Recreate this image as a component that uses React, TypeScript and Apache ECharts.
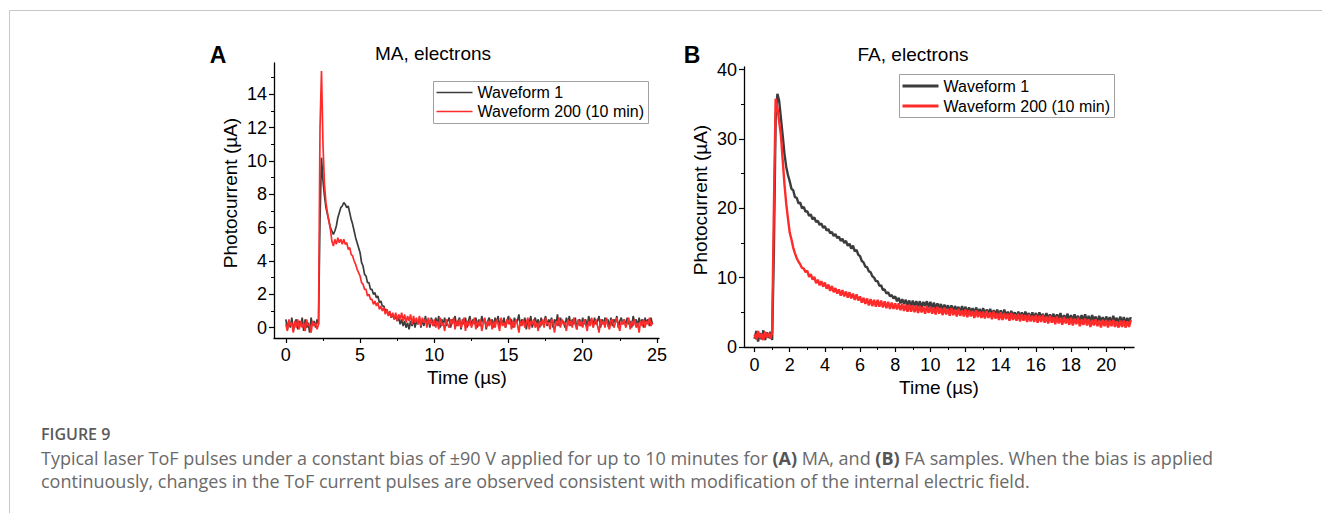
import React, { useEffect, useRef } from "react";
import * as echarts from "echarts";

// ---------- data ----------
const SERIES_NAMES = ["Waveform 1", "Waveform 200 (10 min)"];
const SAMPLE_STEP_US = 0.1; // oscilloscope sampling grid (µs) of the traces below

// Panel A (MA, electrons): photocurrent (µA) sampled every 0.1 µs from 0 to 24.7 µs
const maWaveform1 = [
  0.5, -0.1, 0.4, 0.0, 0.6, -0.2, 0.3, 0.5, -0.1, 0.4,
  0.1, 0.6, -0.2, 0.5, 0.0, 0.3, -0.3, 0.6, 0.1, 0.4,
  0.0, 0.5, 0.2, 6.5, 10.2, 8.8, 7.9, 7.2, 6.8, 6.4,
  6.0, 5.8, 5.6, 5.8, 6.1, 6.6, 6.9, 7.2, 7.3, 7.5,
  7.4, 7.2, 7.3, 6.9, 6.5, 6.2, 5.8, 5.4, 5.1, 4.8,
  4.5, 3.9, 3.7, 3.2, 3.1, 2.7, 2.7, 2.3, 2.3, 2.0,
  2.1, 1.8, 1.9, 1.5, 1.6, 1.3, 1.3, 1.0, 1.1, 0.8,
  0.9, 0.6, 0.8, 0.5, 0.7, 0.4, 0.6, 0.2, 0.5, 0.1,
  0.4, 0.0, 0.3, -0.1, 0.4, 0.1, 0.5, 0.0, 0.4, 0.2,
  0.6, 0.0, 0.5, 0.1, 0.7, 0.2, 0.5, 0.0, 0.6, 0.3,
  0.1, 0.6, 0.2, 0.7, 0.0, 0.5, 0.2, 0.6, 0.1, 0.4,
  0.6, 0.0, 0.5, 0.3, 0.7, 0.1, 0.4, 0.6, -0.1, 0.5,
  0.2, 0.6, 0.0, 0.4, 0.7, 0.1, 0.5, 0.2, 0.6, 0.0,
  0.5, 0.1, 0.7, 0.3, 0.5, -0.1, 0.4, 0.6, 0.2, 0.5,
  0.0, 0.6, 0.3, 0.7, 0.1, 0.5, 0.2, 0.6, 0.0, 0.4,
  0.7, 0.2, 0.5, 0.0, 0.6, 0.3, 0.4, 0.8, 0.1, 0.5,
  0.2, 0.6, -0.1, 0.5, 0.3, 0.7, 0.0, 0.4, 0.6, 0.2,
  0.5, 0.0, 0.6, 0.2, 0.4, 0.7, 0.1, 0.5, 0.3, 0.6,
  0.0, 0.5, 0.2, 0.8, 0.1, 0.6, 0.3, 0.4, 0.0, 0.6,
  0.3, 0.7, 0.1, 0.5, 0.2, 0.6, -0.1, 0.4, 0.5, 0.1,
  0.6, 0.2, 0.5, 0.0, 0.7, 0.3, 0.5, 0.1, 0.6, 0.2,
  0.4, 0.7, 0.0, 0.5, 0.2, 0.6, 0.3, 0.5, 0.0, 0.6,
  0.1, 0.5, 0.3, 0.7, 0.0, 0.4, 0.6, 0.2, 0.5, 0.1,
  0.6, 0.2, 0.4, 0.0, 0.7, 0.3, 0.5, 0.1, 0.6, 0.2,
  0.5, 0.0, 0.6, 0.3, 0.5, 0.1, 0.6, 0.2,
];
const maWaveform200 = [
  0.2, -0.2, 0.5, 0.1, 0.3, -0.3, 0.4, 0.0, 0.5, -0.1,
  0.4, 0.0, 0.3, -0.2, 0.5, 0.1, 0.2, -0.3, 0.4, 0.1,
  0.3, -0.1, 0.2, 12.0, 15.4, 11.0, 8.6, 7.5, 6.9, 6.4,
  5.9, 5.2, 4.9, 5.3, 5.0, 5.4, 5.1, 5.3, 5.0, 5.3,
  5.0, 5.1, 4.7, 4.8, 4.4, 4.3, 4.0, 3.8, 3.5, 3.3,
  3.1, 2.7, 2.6, 2.3, 2.3, 1.9, 2.0, 1.7, 1.7, 1.4,
  1.6, 1.3, 1.5, 1.1, 1.3, 1.0, 1.2, 0.8, 1.1, 0.7,
  1.0, 0.6, 0.9, 0.5, 0.9, 0.4, 0.8, 0.5, 0.9, 0.4,
  0.8, 0.3, 0.7, 0.4, 0.8, 0.2, 0.7, 0.3, 0.6, 0.2,
  0.7, 0.1, 0.6, 0.3, 0.5, 0.0, 0.6, 0.2, 0.5, 0.1,
  0.5, 0.0, 0.4, -0.1, 0.6, 0.1, 0.3, -0.2, 0.5, 0.2,
  0.0, 0.5, 0.2, 0.6, -0.1, 0.4, 0.1, 0.5, 0.0, 0.3,
  0.6, -0.2, 0.4, 0.1, 0.5, 0.0, 0.3, 0.6, -0.1, 0.4,
  0.1, 0.5, -0.2, 0.3, 0.6, 0.0, 0.4, 0.1, 0.5, -0.1,
  0.4, 0.0, 0.5, 0.2, -0.2, 0.6, 0.1, 0.3, 0.0, 0.5,
  0.2, 0.6, -0.1, 0.4, 0.0, 0.5, 0.2, -0.3, 0.4, 0.1,
  0.5, 0.0, 0.3, 0.6, -0.1, 0.4, 0.2, 0.5, 0.0, 0.3,
  -0.2, 0.4, 0.1, 0.5, 0.0, 0.6, 0.2, 0.3, -0.1, 0.5,
  0.3, -0.3, 0.4, 0.1, 0.6, 0.0, 0.5, 0.2, 0.3, -0.2,
  0.5, 0.1, 0.4, 0.0, 0.6, 0.2, -0.1, 0.5, 0.1, 0.4,
  0.0, 0.5, 0.2, -0.2, 0.4, 0.1, 0.6, 0.0, 0.3, 0.5,
  0.1, -0.3, 0.5, 0.2, 0.4, 0.0, 0.6, 0.1, -0.1, 0.4,
  0.5, 0.0, 0.3, 0.6, 0.1, -0.2, 0.4, 0.2, 0.5, 0.0,
  0.3, 0.6, -0.1, 0.4, 0.1, 0.5, 0.0, 0.3, -0.3, 0.4,
  0.1, 0.5, 0.0, 0.4, 0.2, 0.6, 0.1, 0.3,
];

// Panel B (FA, electrons): photocurrent (µA) sampled every 0.1 µs from 0 to 21.4 µs
const faWaveform1 = [
  1.2, 2.3, 0.8, 2.0, 1.1, 2.4, 1.0, 2.1, 1.3, 2.2,
  1.0, 14.0, 33.0, 36.5, 35.5, 33.0, 30.5, 27.9, 26.0, 24.8,
  23.9, 22.8, 22.6, 21.6, 21.5, 20.7, 20.8, 20.0, 20.2, 19.5,
  19.6, 18.9, 19.1, 18.4, 18.7, 18.0, 18.2, 17.6, 17.8, 17.2,
  17.4, 16.8, 17.0, 16.4, 16.6, 16.0, 16.3, 15.7, 15.9, 15.3,
  15.6, 15.0, 15.3, 14.6, 14.9, 14.2, 14.6, 13.8, 14.0, 13.3,
  13.1, 12.4, 12.2, 11.6, 11.5, 10.9, 10.8, 10.2, 10.0, 9.5,
  9.5, 8.8, 8.9, 8.2, 8.3, 7.7, 7.9, 7.3, 7.5, 7.0,
  7.3, 6.6, 7.1, 6.3, 6.9, 6.2, 6.8, 6.0, 6.7, 5.9,
  6.7, 5.9, 6.6, 5.8, 6.6, 5.7, 6.5, 5.9, 6.6, 5.7,
  6.5, 5.6, 6.4, 5.5, 6.3, 5.6, 6.2, 5.4, 6.1, 5.5,
  6.0, 5.2, 6.0, 5.1, 5.9, 5.3, 5.8, 5.0, 5.9, 5.1,
  5.8, 4.9, 5.7, 5.0, 5.6, 4.8, 5.7, 4.9, 5.5, 4.7,
  5.6, 4.7, 5.4, 4.8, 5.5, 4.6, 5.3, 4.7, 5.4, 4.5,
  5.3, 4.4, 5.4, 4.5, 5.1, 4.3, 5.2, 4.5, 5.0, 4.2,
  5.1, 4.3, 5.0, 4.2, 5.1, 4.4, 4.9, 4.1, 5.0, 4.2,
  4.9, 4.0, 5.0, 4.2, 4.8, 3.9, 4.9, 4.1, 4.7, 4.0,
  4.8, 3.9, 4.7, 4.1, 4.9, 3.8, 4.6, 4.0, 4.8, 3.8,
  4.6, 3.7, 4.7, 3.9, 4.5, 3.6, 4.6, 3.8, 4.7, 3.7,
  4.5, 3.6, 4.6, 3.8, 4.4, 3.5, 4.5, 3.7, 4.3, 3.5,
  4.4, 3.6, 4.3, 3.4, 4.5, 3.7, 4.2, 3.4, 4.4, 3.5,
  4.3, 3.4, 4.2, 3.6, 4.3,
];
const faWaveform200 = [
  1.8, 1.1, 2.3, 1.3, 1.9, 1.0, 2.2, 1.4, 2.0, 1.2,
  2.1, 20.0, 35.8, 34.5, 32.5, 30.5, 27.0, 23.5, 20.7, 18.5,
  16.5, 15.5, 14.3, 13.5, 12.8, 12.3, 11.9, 11.4, 11.3, 10.8,
  11.0, 10.1, 10.5, 9.7, 10.1, 9.2, 9.7, 8.9, 9.5, 8.7,
  9.3, 8.4, 9.0, 8.1, 8.8, 7.9, 8.5, 7.7, 8.3, 7.4,
  8.2, 7.3, 8.0, 7.1, 7.9, 7.0, 7.7, 6.8, 7.6, 6.7,
  7.3, 6.4, 7.1, 6.2, 7.0, 6.0, 6.9, 5.9, 6.8, 5.8,
  6.8, 5.8, 6.7, 5.7, 6.6, 5.6, 6.5, 5.5, 6.4, 5.5,
  6.3, 5.4, 6.3, 5.3, 6.2, 5.2, 6.1, 5.1, 6.1, 5.1,
  6.0, 5.0, 6.0, 4.9, 5.9, 5.0, 5.8, 4.8, 5.9, 4.9,
  5.8, 4.8, 5.7, 4.7, 5.8, 4.8, 5.6, 4.6, 5.7, 4.7,
  5.5, 4.5, 5.6, 4.6, 5.4, 4.4, 5.5, 4.5, 5.3, 4.4,
  5.4, 4.3, 5.3, 4.4, 5.2, 4.2, 5.3, 4.3, 5.1, 4.2,
  5.1, 4.1, 5.2, 4.2, 5.0, 4.0, 5.1, 4.1, 4.9, 3.9,
  5.0, 3.9, 4.9, 4.0, 4.8, 3.8, 4.9, 3.9, 4.7, 3.8,
  4.8, 3.7, 4.7, 3.8, 4.6, 3.6, 4.7, 3.7, 4.5, 3.6,
  4.6, 3.5, 4.5, 3.6, 4.6, 3.5, 4.4, 3.4, 4.5, 3.5,
  4.3, 3.3, 4.4, 3.4, 4.2, 3.2, 4.3, 3.4, 4.1, 3.2,
  4.2, 3.1, 4.1, 3.3, 4.2, 3.0, 4.0, 3.2, 4.1, 3.1,
  4.0, 2.9, 3.9, 3.1, 4.0, 3.0, 3.8, 2.8, 3.9, 3.0,
  3.9, 2.8, 3.8, 3.0, 3.9, 2.9, 3.7, 2.8, 3.8, 2.9,
  3.8, 2.8, 3.7, 2.9, 3.9,
];

// tick values
const maXMajor = [0, 5, 10, 15, 20, 25];
const maXMinor = [2.5, 7.5, 12.5, 17.5, 22.5];
const maYMajor = [0, 2, 4, 6, 8, 10, 12, 14];
const maYMinor = [1, 3, 5, 7, 9, 11, 13, 15];
const faXMajor = [0, 2, 4, 6, 8, 10, 12, 14, 16, 18, 20];
const faXMinor = [1, 3, 5, 7, 9, 11, 13, 15, 17, 19, 21];
const faYMajor = [0, 10, 20, 30, 40];
const faYMinor = [5, 15, 25, 35];

// texts
const PANEL_TITLES = ["MA, electrons", "FA, electrons"];
const X_NAME = "Time (µs)";
const Y_NAME = "Photocurrent (µA)";
const FIG_LABEL = "FIGURE 9";
const CAPTION_1 =
  "Typical laser ToF pulses under a constant bias of ±90 V applied for up to 10 minutes for {b|(A)} MA, and {b|(B)} FA samples. When the bias is applied";
const CAPTION_2 =
  "continuously, changes in the ToF current pulses are observed consistent with modification of the internal electric field.";

// ---------- chart ----------
const FONT = "'Liberation Sans', Arial, Helvetica, sans-serif";
const CAP_FONT = "'Open Sans', Lato, sans-serif";
const GRAY = "#3c3c3c";
const RED = "#ff2b2b";

const toPairs = (vals: number[]) =>
  vals.map((v, i) => [Math.round(i * SAMPLE_STEP_US * 10) / 10, v]);

function majorAxis(gridIndex: number, position: string, min: number, max: number, values: number[], margin: number) {
  return {
    gridIndex, type: "value", position, min, max,
    axisLine: { show: true, onZero: false, lineStyle: { color: "#000", width: 1.3 } },
    splitLine: { show: false },
    axisTick: { show: true, inside: false, length: 5, customValues: values, lineStyle: { color: "#000", width: 1.2 } },
    axisLabel: { show: true, customValues: values, margin, fontSize: 18, color: "#000", fontFamily: FONT },
  };
}
function minorAxis(gridIndex: number, position: string, min: number, max: number, values: number[]) {
  return {
    gridIndex, type: "value", position, offset: 0, min, max,
    axisLine: { show: false, onZero: false },
    splitLine: { show: false },
    axisTick: { show: true, inside: false, length: 3, customValues: values, lineStyle: { color: "#000", width: 1 } },
    axisLabel: { show: false },
  };
}

export default function App() {
  const ref = useRef<HTMLDivElement>(null);
  useEffect(() => {
    document.body.style.margin = "0";
    const chart = echarts.init(ref.current!, null, { renderer: "svg" });
    const legendBox = (x: number, y: number, w: number, h: number, l1: number, l2: number, lw: number) => [
      { type: "rect", shape: { x, y, width: w, height: h }, style: { fill: "#fff", stroke: "#a0a0a0", lineWidth: 1 } },
      { type: "line", shape: { x1: x + 3, y1: y + l1, x2: x + 39, y2: y + l1 }, style: { stroke: GRAY, lineWidth: lw } },
      { type: "line", shape: { x1: x + 3, y1: y + l2, x2: x + 39, y2: y + l2 }, style: { stroke: RED, lineWidth: lw } },
      { type: "text", x: x + 44, y: y + l1, style: { text: SERIES_NAMES[0], font: `16px ${FONT}`, fill: "#000", textVerticalAlign: "middle" } },
      { type: "text", x: x + 44, y: y + l2, style: { text: SERIES_NAMES[1], font: `16px ${FONT}`, fill: "#000", textVerticalAlign: "middle" } },
    ];
    const txt = (x: number, y: number, text: string, font: string, extra: any = {}) => ({
      type: "text", x, y, ...extra,
      style: { text, font, fill: "#000", textAlign: "center", textVerticalAlign: "middle" },
    });
    const line = (name: string, xi: number, vals: number[], color: string, width: number) => ({
      name, type: "line", xAxisIndex: xi, yAxisIndex: xi, data: toPairs(vals),
      showSymbol: false, symbol: "none", lineStyle: { color, width }, itemStyle: { color },
    });
    const option: any = {
      animation: false,
      grid: [
        { left: 274, top: 63, width: 385, height: 275 },
        { left: 744, top: 67, width: 390, height: 280 },
      ],
      xAxis: [
        majorAxis(0, "bottom", -0.8, 25.14, maXMajor, 8),
        minorAxis(0, "bottom", -0.8, 25.14, maXMinor),
        majorAxis(1, "bottom", -0.6, 21.58, faXMajor, 9),
        minorAxis(1, "bottom", -0.6, 21.58, faXMinor),
      ],
      yAxis: [
        majorAxis(0, "left", -0.62, 15.88, maYMajor, 7),
        minorAxis(0, "left", -0.62, 15.88, maYMinor),
        majorAxis(1, "left", 0, 40.37, faYMajor, 7),
        minorAxis(1, "left", 0, 40.37, faYMinor),
      ],
      series: [
        line(SERIES_NAMES[0], 0, maWaveform1, GRAY, 1.7),
        line(SERIES_NAMES[1], 0, maWaveform200, RED, 1.7),
        line(SERIES_NAMES[0], 2, faWaveform1, GRAY, 2.4),
        line(SERIES_NAMES[1], 2, faWaveform200, RED, 2.4),
      ],
      graphic: [
        // page frame
        { type: "line", shape: { x1: 9.5, y1: 10.5, x2: 1322, y2: 10.5 }, style: { stroke: "#c8c8c8", lineWidth: 1 } },
        { type: "line", shape: { x1: 9.5, y1: 10.5, x2: 9.5, y2: 513 }, style: { stroke: "#c8c8c8", lineWidth: 1 } },
        // panel letters and titles
        txt(218, 55, "A", `bold 23px ${FONT}`),
        txt(692, 55, "B", `bold 23px ${FONT}`),
        txt(433, 53, PANEL_TITLES[0], `19px ${FONT}`),
        txt(913, 54, PANEL_TITLES[1], `19px ${FONT}`),
        // axis names
        txt(467, 377, X_NAME, `19px ${FONT}`),
        txt(939, 387, X_NAME, `19px ${FONT}`),
        txt(230, 193, Y_NAME, `19px ${FONT}`, { rotation: Math.PI / 2 }),
        txt(700, 200, Y_NAME, `19px ${FONT}`, { rotation: Math.PI / 2 }),
        // legends
        ...legendBox(433.5, 81.5, 215, 42, 11, 30, 1.5),
        ...legendBox(899.5, 74.5, 215, 43, 11.5, 31.5, 3),
        // caption
        { type: "text", x: 41, y: 434, style: { text: FIG_LABEL, font: `600 16px ${CAP_FONT}`, fill: "#5a5a5a", textVerticalAlign: "middle" } },
        {
          type: "text", x: 41, y: 458,
          style: {
            text: CAPTION_1, font: `18px ${CAP_FONT}`, fill: "#6a6a6a", textVerticalAlign: "middle",
            rich: { b: { fontWeight: "bold", fontSize: 18, fontFamily: CAP_FONT, fill: "#555" } },
          },
        },
        { type: "text", x: 41, y: 481, style: { text: CAPTION_2, font: `18px ${CAP_FONT}`, fill: "#6a6a6a", textVerticalAlign: "middle" } },
      ],
    };
    chart.setOption(option);
    return () => chart.dispose();
  }, []);
  return <div ref={ref} style={{ width: 1322, height: 513 }} />;
}
